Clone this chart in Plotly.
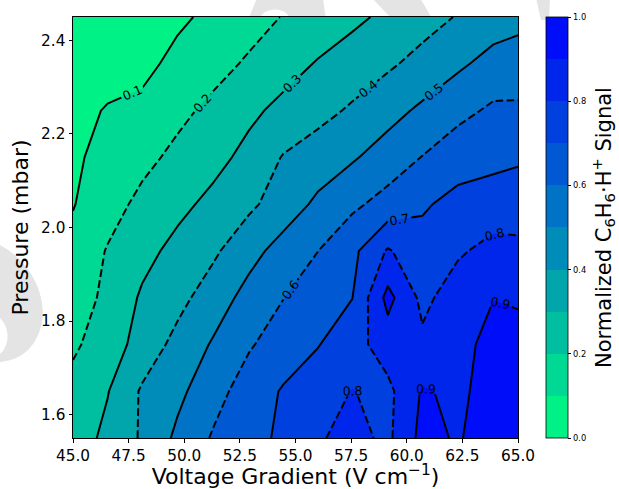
import plotly.graph_objects as go
from plotly.colors import sample_colorscale

# Grid of the measurement (voltage gradient columns, pressure rows)
voltage = [45.0, 46.55, 48.1, 49.7, 51.3, 52.9, 54.45, 56.0, 57.55, 59.15, 60.7, 62.3, 63.9, 65.0]
pressure = [1.55, 1.65, 1.75, 1.85, 1.95, 2.05, 2.15, 2.25, 2.35, 2.45]

# Normalized C6H6.H+ signal, one row per pressure value
sig_155 = [0.245, 0.325, 0.411, 0.521, 0.610, 0.663, 0.720, 0.790, 0.830, 0.780, 0.930, 0.890, 0.960, 0.990]
sig_165 = [0.230, 0.295, 0.412, 0.476, 0.564, 0.645, 0.709, 0.757, 0.803, 0.775, 0.910, 0.880, 0.940, 0.950]
sig_175 = [0.185, 0.247, 0.340, 0.430, 0.510, 0.590, 0.645, 0.695, 0.760, 0.850, 0.820, 0.880, 0.920, 0.930]
sig_185 = [0.155, 0.220, 0.313, 0.370, 0.449, 0.534, 0.598, 0.649, 0.698, 0.930, 0.775, 0.850, 0.899, 0.890]
sig_195 = [0.130, 0.206, 0.269, 0.329, 0.383, 0.466, 0.538, 0.599, 0.675, 0.810, 0.736, 0.787, 0.831, 0.822]
sig_205 = [0.095, 0.163, 0.223, 0.274, 0.326, 0.380, 0.447, 0.519, 0.580, 0.636, 0.688, 0.729, 0.748, 0.756]
sig_215 = [0.085, 0.130, 0.175, 0.222, 0.269, 0.328, 0.406, 0.447, 0.489, 0.545, 0.603, 0.658, 0.673, 0.686]
sig_225 = [0.070, 0.107, 0.125, 0.178, 0.222, 0.279, 0.326, 0.369, 0.413, 0.466, 0.518, 0.572, 0.617, 0.613]
sig_235 = [0.020, 0.060, 0.072, 0.128, 0.169, 0.212, 0.261, 0.307, 0.345, 0.385, 0.431, 0.483, 0.534, 0.555]
sig_245 = [0.000, 0.030, 0.055, 0.082, 0.123, 0.164, 0.204, 0.241, 0.279, 0.320, 0.362, 0.406, 0.452, 0.465]

signal = [sig_155, sig_165, sig_175, sig_185, sig_195, sig_205, sig_215, sig_225, sig_235, sig_245]

x_ticks = [45.0, 47.5, 50.0, 52.5, 55.0, 57.5, 60.0, 62.5, 65.0]
y_ticks = [1.6, 1.8, 2.0, 2.2, 2.4]
cbar_ticks = [0.0, 0.2, 0.4, 0.6, 0.8, 1.0]

FONT = "DejaVu Sans"
# winter_r colours evaluated at the band centres 0.05 ... 0.95
GREEN = "rgb(0,242,134)"
BLUE = "rgb(0,13,249)"
fill_scale = [[0.0, GREEN], [1.0, BLUE]]

# discrete colour scale for the colour bar (10 bands between 0 and 1)
band_cols = sample_colorscale(fill_scale, [i / 9 for i in range(10)])
disc_scale = []
for i, c in enumerate(band_cols):
    disc_scale.append([i / 10, c])
    disc_scale.append([(i + 1) / 10, c])

W, H = 619, 489
ML, MR, MT, MB = 73, 101, 17, 51
PW, PH = W - ML - MR, H - MT - MB


def to_paper(px, py):
    return (px - ML) / PW, (H - MB - py) / PH


def path(cmds):
    out = []
    for c in cmds:
        if isinstance(c, str):
            out.append(c)
        else:
            xp, yp = to_paper(*c)
            out.append(f"{xp:.4f},{yp:.4f}")
    return " ".join(out)


fig = go.Figure()

# faint watermark fragments visible in the white margins
WM = "#e4e4e4"
wm_paths = [
    ["M", (0, 245), "C", (32, 262), (50, 300), (40, 330), "C", (33, 350), (20, 360), (0, 362),
     "L", (0, 354), "C", (10, 345), (10, 328), (0, 318), "Z"],
    ["M", (257, -2), "L", (323, -2), "L", (326, 20), "L", (290, 20), "C", (288, 6), (262, 6), (260, 20),
     "L", (248, 20), "Z"],
    ["M", (372, -2), "L", (420, -2), "L", (433, 20), "L", (393, 20), "Z"],
    ["M", (536, -2), "L", (550, -2), "L", (549, 20), "L", (541, 20), "Z"],
]
for p in wm_paths:
    fig.add_shape(type="path", path=path(p), xref="paper", yref="paper",
                  fillcolor=WM, line=dict(width=0), layer="below")

# filled bands
fig.add_trace(go.Contour(
    x=voltage, y=pressure, z=signal,
    autocontour=False,
    contours=dict(start=0.1, end=0.9, size=0.1, coloring="fill", showlines=False),
    colorscale=fill_scale, line=dict(width=0, smoothing=0), showscale=False, hoverinfo="skip",
))

label_font = dict(family=FONT, size=12.5, color="black")

# solid contour lines (0.1, 0.3, ... 0.9)
fig.add_trace(go.Contour(
    x=voltage, y=pressure, z=signal,
    autocontour=False,
    contours=dict(start=0.1, end=0.9, size=0.2, coloring="none",
                  showlabels=True, labelfont=label_font, labelformat=".1f"),
    line=dict(color="black", width=2, smoothing=0), showscale=False, hoverinfo="skip",
))

# dashed contour lines (0.2, 0.4, 0.6, 0.8)
fig.add_trace(go.Contour(
    x=voltage, y=pressure, z=signal,
    autocontour=False,
    contours=dict(start=0.2, end=0.8, size=0.2, coloring="none",
                  showlabels=True, labelfont=label_font, labelformat=".1f"),
    line=dict(color="black", width=2, dash="7.7px,3.3px", smoothing=0),
    showscale=False, hoverinfo="skip",
))

# invisible carrier for the banded colour bar
fig.add_trace(go.Heatmap(
    x=voltage, y=pressure, z=signal, opacity=0, zmin=0, zmax=1,
    colorscale=disc_scale, hoverinfo="skip",
    colorbar=dict(
        x=(546 - ML) / PW, xanchor="left", y=0.5, yanchor="middle",
        len=1, lenmode="fraction", thickness=21.5, xpad=0, ypad=0,
        outlinewidth=0.8, outlinecolor="black",
        tickvals=cbar_ticks, ticktext=[f"{v:.1f}" for v in cbar_ticks],
        ticks="outside", ticklen=3.5, tickwidth=0.8, tickcolor="black",
        tickfont=dict(family=FONT, size=8.3, color="black"),
        title=dict(text="Normalized C<sub>6</sub>H<sub>6</sub>·H<sup>+</sup> Signal",
                   side="right", font=dict(family=FONT, size=21, color="black")),
    ),
))

axis_common = dict(
    showline=True, mirror=True, linecolor="black", linewidth=1,
    ticks="outside", ticklen=3.5, tickwidth=0.8, tickcolor="black",
    showgrid=False, zeroline=False,
    tickfont=dict(family=FONT, size=15.3, color="black"),
)

fig.update_layout(
    width=W, height=H,
    margin=dict(l=ML, r=MR, t=MT, b=MB, autoexpand=False),
    paper_bgcolor="white", plot_bgcolor="white",
    font=dict(family=FONT, color="black"),
    showlegend=False,
    hovermode=False,
    xaxis=dict(range=[45, 65], tickvals=x_ticks, ticktext=[f"{v:.1f}" for v in x_ticks],
               title=dict(text="Voltage Gradient (V cm<sup>−1</sup>)",
                          font=dict(family=FONT, size=22, color="black"), standoff=7),
               **axis_common),
    yaxis=dict(range=[1.55, 2.45], tickvals=y_ticks, ticktext=[f"{v:.1f}" for v in y_ticks],
               title=dict(text="Pressure (mbar)",
                          font=dict(family=FONT, size=22, color="black"), standoff=6),
               **axis_common),
)

fig.write_html("out.html", config={"displayModeBar": False},
               post_script="document.body.style.margin='0px';")
